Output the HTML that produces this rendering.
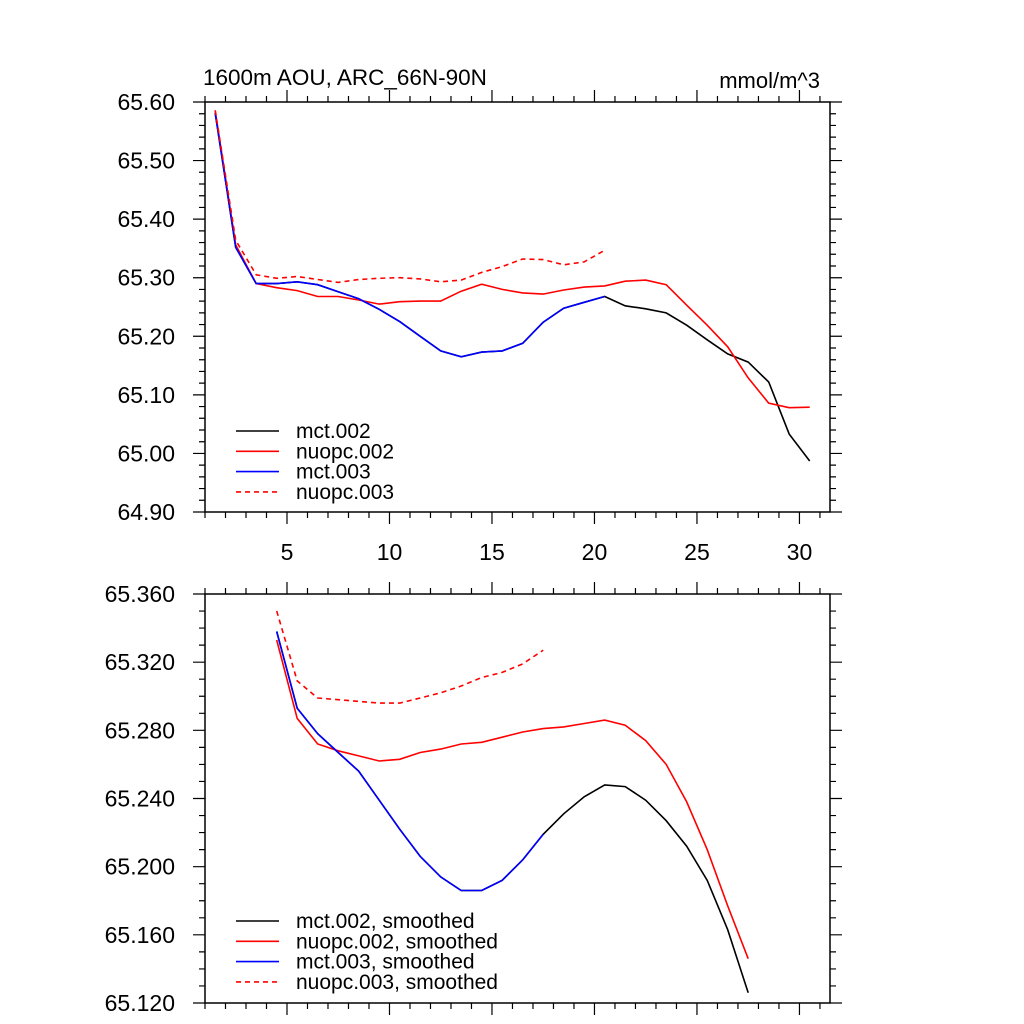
<!DOCTYPE html>
<html><head><meta charset="utf-8"><style>
body{margin:0;background:#fff;}
svg{display:block;font-family:"Liberation Sans",sans-serif;}
</style></head><body>
<svg id="chart" width="1024" height="1024" xmlns="http://www.w3.org/2000/svg"></svg>
<script>
const xVals1=[1.5,2.5,3.5,4.5,5.5,6.5,7.5,8.5,9.5,10.5,11.5,12.5,13.5,14.5,15.5,16.5,17.5,18.5,19.5,20.5,21.5,22.5,23.5,24.5,25.5,26.5,27.5,28.5,29.5,30.5];
const mct002=[65.581,65.352,65.290,65.290,65.293,65.288,65.276,65.264,65.246,65.225,65.200,65.175,65.165,65.173,65.175,65.188,65.224,65.248,65.258,65.268,65.252,65.247,65.240,65.219,65.194,65.170,65.156,65.122,65.033,64.987];
const nuopc002=[65.585,65.356,65.290,65.283,65.278,65.268,65.268,65.262,65.255,65.259,65.260,65.260,65.277,65.289,65.280,65.274,65.272,65.279,65.284,65.286,65.294,65.296,65.288,65.253,65.219,65.182,65.129,65.086,65.078,65.079];
const mct003=[65.581,65.352,65.290,65.290,65.293,65.288,65.276,65.264,65.246,65.225,65.200,65.175,65.165,65.173,65.175,65.188,65.224,65.248,65.258,65.268];
const nuopc003=[65.586,65.364,65.305,65.299,65.302,65.297,65.292,65.297,65.299,65.300,65.298,65.293,65.296,65.309,65.319,65.332,65.331,65.322,65.327,65.347];
const xVals2=[4.5,5.5,6.5,7.5,8.5,9.5,10.5,11.5,12.5,13.5,14.5,15.5,16.5,17.5,18.5,19.5,20.5,21.5,22.5,23.5,24.5,25.5,26.5,27.5];
const mct002s=[65.338,65.293,65.278,65.267,65.256,65.239,65.222,65.206,65.194,65.186,65.186,65.192,65.204,65.219,65.231,65.241,65.248,65.247,65.239,65.227,65.212,65.192,65.163,65.126];
const nuopc002s=[65.333,65.287,65.272,65.268,65.265,65.262,65.263,65.267,65.269,65.272,65.273,65.276,65.279,65.281,65.282,65.284,65.286,65.283,65.274,65.260,65.238,65.210,65.177,65.146];
const mct003s=[65.338,65.293,65.278,65.267,65.256,65.239,65.222,65.206,65.194,65.186,65.186,65.192,65.204,65.219];
const nuopc003s=[65.350,65.309,65.299,65.298,65.297,65.296,65.296,65.299,65.302,65.306,65.311,65.314,65.319,65.327];
const xTickLabels=[5,10,15,20,25,30];
const yTicks1=["65.60","65.50","65.40","65.30","65.20","65.10","65.00","64.90"];
const yTicks2=["65.360","65.320","65.280","65.240","65.200","65.160","65.120"];
const legend1=["mct.002","nuopc.002","mct.003","nuopc.003"];
const legend2=["mct.002, smoothed","nuopc.002, smoothed","mct.003, smoothed","nuopc.003, smoothed"];

const svg=document.getElementById('chart');
const NS='http://www.w3.org/2000/svg';
function mk(tag,attrs,parent){const e=document.createElementNS(NS,tag);for(const k in attrs)e.setAttribute(k,attrs[k]);(parent||svg).appendChild(e);return e;}
const L=205,R=830,xmin=1,xmax=31.49;
function xs(v){return L+(v-xmin)/(xmax-xmin)*(R-L);}

function panel(T,B,ymin,ymax,yLabels,minorStep,showX,series,legendNames,legTop,pname){
  const g=mk('g',{});
  
  
  const ys=v=>B-(v-ymin)/(ymax-ymin)*(B-T);
  let d='';
  for(let v=1;v<=31;v++){const x=xs(v);const maj=v%5===0;const len=maj?12:6;
    d+=`M${x} ${B}v${len}M${x} ${T}v${-len}`;}
  const n=Math.round((ymax-ymin)/minorStep);
  const majEvery=Math.round(((ymax-ymin)/(yLabels.length-1))/minorStep);
  for(let i=0;i<=n;i++){const y=ys(ymin+i*minorStep);const len=(i%majEvery===0)?12:6;
    d+=`M${L} ${y}h${-len}M${R} ${y}h${len}`;}
  const tk=mk('path',{d:d,stroke:'#000','stroke-width':1.2,fill:'none'},g);
  
  
  const fr=mk('rect',{x:L,y:T,width:R-L,height:B-T,fill:'none',stroke:'#000','stroke-width':1.5},g);
  
  
  yLabels.forEach((lab,i)=>{const v=ymax-i*(ymax-ymin)/(yLabels.length-1);
    const t=mk('text',{x:175,y:ys(v)+8,'text-anchor':'end','font-size':23},g);t.textContent=lab;
    
    });
  if(showX){xTickLabels.forEach(v=>{const t=mk('text',{x:xs(v),y:B+48,'text-anchor':'middle','font-size':23},g);t.textContent=v;
    
    });}
  series.forEach((s,si)=>{
    const pts=s.y.map((v,i)=>xs(s.x[i]).toFixed(1)+','+ys(v).toFixed(1)).join(' ');
    const pl=mk('polyline',{points:pts,fill:'none',stroke:s.c,'stroke-width':1.6,'stroke-dasharray':s.dash?'5,4':'none'},g);
    
    
  });
  [0,1,2,3].forEach(i=>{const s=series[i];const y=legTop+i*20.3;
    const ln=mk('line',{x1:236,x2:279,y1:y,y2:y,stroke:s.c,'stroke-width':1.6,'stroke-dasharray':s.dash?'5,4':'none'},g);
    
    
    const t=mk('text',{x:296,y:y+7,'font-size':21},g);t.textContent=legendNames[i];
    
    });
}
panel(102,512,64.90,65.60,yTicks1,0.02,true,[
 {x:xVals1,y:mct002,c:'#000'},{x:xVals1,y:nuopc002,c:'#f00'},{x:xVals1,y:mct003,c:'#00f'},{x:xVals1,y:nuopc003,c:'#f00',dash:true}],legend1,431,'top-panel');
panel(594,1003,65.120,65.360,yTicks2,0.01,false,[
 {x:xVals2,y:mct002s,c:'#000'},{x:xVals2,y:nuopc002s,c:'#f00'},{x:xVals2,y:mct003s,c:'#00f'},{x:xVals2,y:nuopc003s,c:'#f00',dash:true}],legend2,921,'bottom-panel');
const t1=mk('text',{x:203,y:85,'font-size':22.5});t1.textContent='1600m AOU, ARC_66N-90N';


const t2=mk('text',{x:820,y:88,'font-size':22},);t2.setAttribute('text-anchor','end');t2.textContent='mmol/m^3';


</script>
</body></html>
